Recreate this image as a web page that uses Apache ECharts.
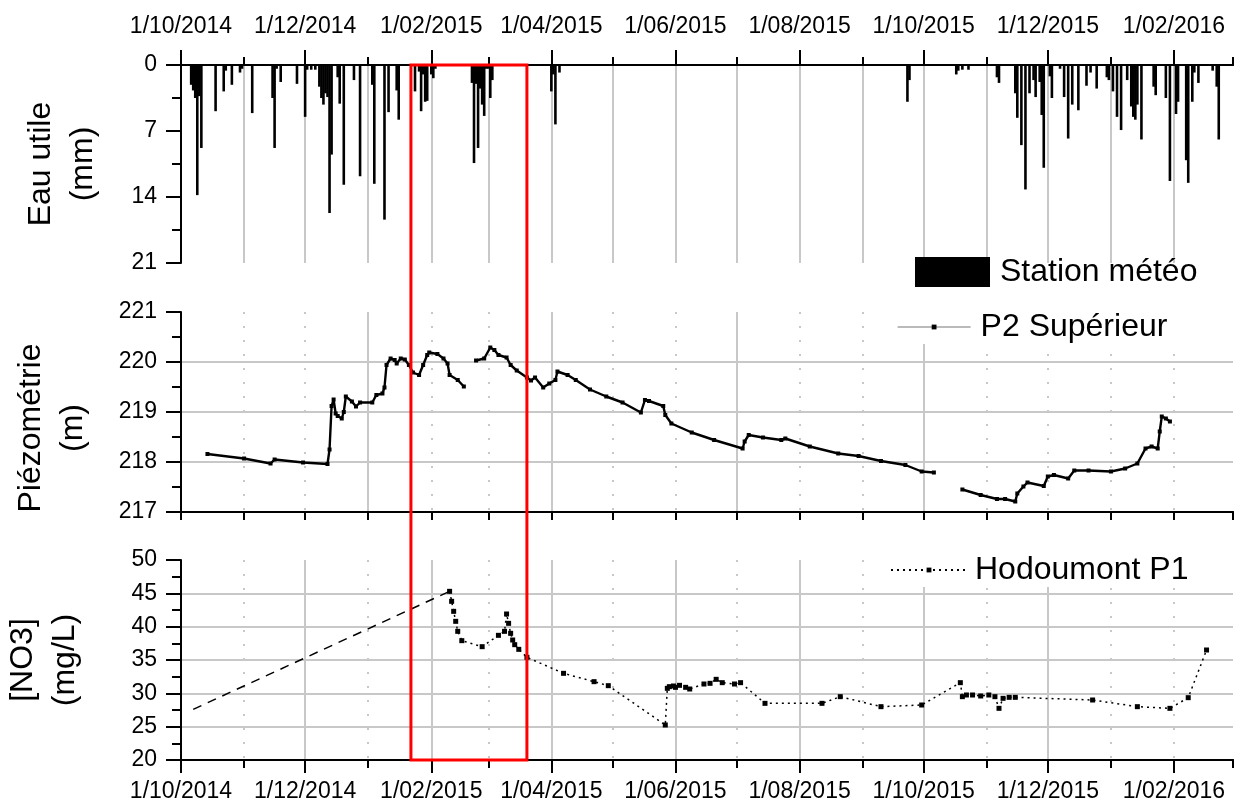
<!DOCTYPE html>
<html>
<head>
<meta charset="utf-8">
<script src="https://cdn.jsdelivr.net/npm/echarts@6/dist/echarts.min.js"></script>
<style>html,body{margin:0;padding:0;background:#fff}#c{width:1242px;height:805px}</style>
</head>
<body>
<div id="c"></div>
<script>
// ---------- tick dates ----------
const monthTicks = ['2014-10-01','2014-11-01','2014-12-01','2015-01-01','2015-02-01','2015-03-01','2015-04-01','2015-05-01','2015-06-01','2015-07-01','2015-08-01','2015-09-01','2015-10-01','2015-11-01','2015-12-01','2016-01-01','2016-02-01','2016-03-01'];
const labelTicks = ['2014-10-01','2014-12-01','2015-02-01','2015-04-01','2015-06-01','2015-08-01','2015-10-01','2015-12-01','2016-02-01'];
const quarterTicks = ['2014-10-01','2015-01-01','2015-04-01','2015-07-01','2015-10-01','2016-01-01'];
const highlightPeriod = ['2015-01-22','2015-03-20'];

// ---------- Eau utile (mm) ----------
const rainDates = [
'2014-10-06','2014-10-07','2014-10-08','2014-10-09','2014-10-10','2014-10-11','2014-10-18','2014-10-22','2014-10-23','2014-10-26','2014-10-30','2014-10-31',
'2014-11-05','2014-11-15','2014-11-16','2014-11-17','2014-11-19','2014-11-27',
'2014-12-01','2014-12-02','2014-12-04','2014-12-06','2014-12-08','2014-12-09','2014-12-10','2014-12-11','2014-12-12','2014-12-13','2014-12-14','2014-12-17','2014-12-18','2014-12-20','2014-12-25','2014-12-28',
'2015-01-03','2015-01-04','2015-01-09','2015-01-11','2015-01-15','2015-01-16','2015-01-24','2015-01-26','2015-01-27','2015-01-28','2015-01-29','2015-01-30','2015-02-01','2015-02-02','2015-02-03',
'2015-02-21','2015-02-22','2015-02-23','2015-02-24','2015-02-25','2015-02-26','2015-02-27','2015-02-28','2015-03-01','2015-03-02','2015-03-03',
'2015-04-01','2015-04-02','2015-04-03','2015-04-05',
'2015-09-23','2015-09-24',
'2015-10-17','2015-10-18','2015-10-20','2015-10-23',
'2015-11-06','2015-11-07','2015-11-15','2015-11-16','2015-11-18','2015-11-20','2015-11-22','2015-11-24','2015-11-25','2015-11-27','2015-11-28','2015-11-29',
'2015-12-02','2015-12-03','2015-12-07','2015-12-09','2015-12-11','2015-12-13','2015-12-16','2015-12-20','2015-12-22','2015-12-25','2015-12-30','2015-12-31',
'2016-01-02','2016-01-04','2016-01-06','2016-01-09','2016-01-11','2016-01-12','2016-01-13','2016-01-14','2016-01-16','2016-01-22','2016-01-23','2016-01-28','2016-01-30',
'2016-02-02','2016-02-03','2016-02-07','2016-02-08','2016-02-10','2016-02-11','2016-02-13','2016-02-20','2016-02-22','2016-02-23'];
const rainValues = [
2.1,2.7,3.5,13.8,3.3,8.8,4.9,2.8,0.6,2.1,0.8,0.4,
5.1,3.5,8.8,0.4,1.8,2.0,
5.5,0.5,0.5,0.5,2.3,3.5,4.2,3.0,3.4,15.7,9.5,1.3,4.1,12.7,1.6,11.8,
2.1,12.6,16.4,5.0,2.7,5.8,2.8,0.7,4.9,1.0,3.9,3.8,1.0,1.4,0.4,
1.9,10.4,2.0,8.8,2.5,4.2,5.4,0.4,0.4,3.5,1.6,
2.8,1.0,6.3,0.8,
3.9,1.6,
1.0,0.6,0.5,0.5,
1.3,1.9,3.0,5.6,8.5,13.2,3.0,1.6,3.4,1.8,5.3,10.9,
1.2,3.5,0.4,3.4,7.8,4.2,4.8,2.2,0.8,2.5,1.3,1.6,
2.8,5.5,6.9,1.6,4.4,5.5,5.8,4.2,7.9,2.3,3.2,3.5,12.3,
5.2,3.9,10.1,12.5,3.9,0.8,1.9,0.6,2.3,7.9];

// ---------- Piézométrie P2 Supérieur (m) ----------
const piezoDates = [
'2014-10-14','2014-11-01','2014-11-14','2014-11-16','2014-11-30','2014-12-12','2014-12-13','2014-12-14','2014-12-15','2014-12-16','2014-12-17','2014-12-19','2014-12-20','2014-12-21','2014-12-24','2014-12-26','2014-12-28',
'2015-01-03','2015-01-05','2015-01-08','2015-01-09','2015-01-10','2015-01-12','2015-01-14','2015-01-15','2015-01-17','2015-01-19','2015-01-21','2015-01-23','2015-01-26','2015-01-28','2015-01-30','2015-01-31',
'2015-02-04','2015-02-07','2015-02-09','2015-02-10','2015-02-14','2015-02-17','2015-02-20','2015-02-23','2015-02-27',
'2015-03-02','2015-03-04','2015-03-06','2015-03-10','2015-03-12','2015-03-15','2015-03-20','2015-03-22','2015-03-24','2015-03-28','2015-03-31',
'2015-04-03','2015-04-04','2015-04-09','2015-04-13','2015-04-20','2015-04-28',
'2015-05-06','2015-05-15','2015-05-17','2015-05-19','2015-05-26','2015-05-27','2015-05-30',
'2015-06-09','2015-06-20','2015-07-04','2015-07-05','2015-07-07','2015-07-14','2015-07-23','2015-07-25',
'2015-08-06','2015-08-20','2015-08-30','2015-09-10','2015-09-22','2015-09-30','2015-10-06','2015-10-13',
'2015-10-20','2015-10-29','2015-11-06','2015-11-10','2015-11-15','2015-11-16','2015-11-19','2015-11-21','2015-11-29',
'2015-12-01','2015-12-04','2015-12-11','2015-12-14','2015-12-21',
'2016-01-01','2016-01-08','2016-01-14','2016-01-18','2016-01-21','2016-01-24','2016-01-25','2016-01-26','2016-01-28','2016-01-30'];
const piezoValues = [
218.16,218.07,217.97,218.05,217.99,217.96,218.25,219.12,219.25,218.97,218.92,218.87,219.00,219.31,219.21,219.11,219.19,
219.19,219.34,219.37,219.49,219.94,220.07,220.04,219.97,220.07,220.05,219.94,219.79,219.74,219.94,220.14,220.19,
220.16,220.07,219.97,219.74,219.64,219.51,null,220.03,220.07,
220.29,220.24,220.14,220.09,219.94,219.83,219.69,219.63,219.69,219.49,219.57,
219.64,219.81,219.74,219.64,219.45,219.31,
219.19,218.99,219.24,219.22,219.12,218.94,218.77,
218.59,218.44,218.27,218.41,218.54,218.49,218.44,218.47,
218.31,218.17,218.12,218.02,217.94,217.81,217.79,null,
217.45,217.34,217.26,217.26,217.21,217.37,217.51,217.59,217.52,
217.71,217.74,217.67,217.83,217.83,
217.81,217.87,217.97,218.27,218.31,218.27,218.61,218.91,218.87,218.81];

// ---------- [NO3] Hodoumont P1 (mg/L) ----------
const no3Dates = [
'2014-10-07','2015-02-10','2015-02-11','2015-02-12','2015-02-13','2015-02-14','2015-02-16','2015-02-26',
'2015-03-06','2015-03-09','2015-03-10','2015-03-11','2015-03-12','2015-03-13','2015-03-14','2015-03-16','2015-03-20',
'2015-04-07','2015-04-22','2015-04-29','2015-05-27','2015-05-28','2015-05-29','2015-05-31',
'2015-06-01','2015-06-03','2015-06-06','2015-06-08','2015-06-15','2015-06-18','2015-06-21','2015-06-24','2015-06-30',
'2015-07-03','2015-07-15','2015-08-12','2015-08-21','2015-09-10','2015-09-30',
'2015-10-19','2015-10-20','2015-10-22','2015-10-25','2015-10-29','2015-11-02','2015-11-05','2015-11-07','2015-11-09','2015-11-12','2015-11-15',
'2015-12-23','2016-01-14','2016-01-30','2016-02-08','2016-02-17'];
const no3Values = [
27.6,45.3,43.8,42.3,40.8,39.3,37.9,37.0,
38.7,39.3,41.9,40.5,39.0,38.0,37.3,36.6,35.4,
33.0,31.75,31.15,25.25,30.75,31.0,31.1,
30.9,31.2,30.9,30.65,31.4,31.5,32.1,31.6,31.4,
31.6,28.5,28.5,29.5,28.0,28.25,
31.6,29.5,29.75,29.75,29.6,29.75,29.5,27.75,29.25,29.4,29.4,
29.0,28.0,27.75,29.35,36.5];

// ---------- helpers ----------
const FONT = '"Liberation Sans", Arial, Helvetica, sans-serif';
function ts(s){const p=s.split('-').map(Number);return new Date(p[0],p[1]-1,p[2]).getTime();}
function fmt(v){const d=new Date(v);return d.getDate()+'/'+String(d.getMonth()+1).padStart(2,'0')+'/'+d.getFullYear();}
const monthTs = monthTicks.map(ts), labelTs = labelTicks.map(ts), quarterTs = quarterTicks.map(ts);
const X_MIN = monthTs[0], X_MAX = monthTs[monthTs.length-1];
const GRID = '#c8c8c8';
const axisLineStyle = {color:'#000', width:2};

function xAxisDef(gridIndex, position, tickVals, tickLen, label, split){
  return {
    type:'value', gridIndex, position, min:X_MIN, max:X_MAX, scale:true,
    axisLine:{show:true, onZero:false, lineStyle:axisLineStyle},
    axisTick:{show:tickLen>0, customValues:tickVals, length:tickLen, lineStyle:{color:'#000', width:2}},
    axisLabel: label ? Object.assign({show:true, customValues:labelTs, formatter:fmt, fontSize:23, fontFamily:FONT, color:'#000', showMinLabel:true, showMaxLabel:true, hideOverlap:false}, label) : {show:false},
    splitLine: split ? {show:true, showMinLine:false, showMaxLine:false, lineStyle:Object.assign({color:GRID, width:2}, split)} : {show:false},
    axisPointer:{show:false}
  };
}

function yAxisDef(gridIndex, min, max, interval, name, gap, extra){
  return Object.assign({
    type:'value', gridIndex, min, max, interval,
    axisLine:{show:true, onZero:false, lineStyle:axisLineStyle},
    axisTick:{show:true, length:15, lineStyle:{color:'#000', width:2}},
    minorTick:{show:true, splitNumber:2, length:9, lineStyle:{color:'#000', width:2}},
    axisLabel:{fontSize:23, fontFamily:FONT, color:'#000', margin:24, showMinLabel:true, showMaxLabel:true},
    splitLine:{show:true, showMinLine:false, showMaxLine:false, lineStyle:{color:GRID, width:2}},
    name, nameLocation:'middle', nameRotate:90, nameGap:gap,
    nameTextStyle:{fontSize:32, fontFamily:FONT, color:'#000', lineHeight:42}
  }, extra || {});
}

const chart = echarts.init(document.getElementById('c'), null, {renderer:'canvas'});
const option = {
  animation:false,
  backgroundColor:'#fff',
  textStyle:{fontFamily:FONT},
  grid:[
    {left:181, top:65, width:1052, height:198, outerBoundsMode:'none'},
    {left:181, top:312, width:1052, height:200, outerBoundsMode:'none'},
    {left:181, top:560, width:1052, height:200, outerBoundsMode:'none'}
  ],
  xAxis:[
    xAxisDef(0,'top',monthTs,8,{margin:27},{type:'solid'}),
    xAxisDef(0,'top',labelTs,15,null,null),
    xAxisDef(1,'bottom',monthTs,8,null,{type:[2,12]}),
    xAxisDef(1,'bottom',quarterTs,0,null,{type:'solid'}),
    xAxisDef(2,'bottom',monthTs,8,{margin:20},{type:[2,12]}),
    xAxisDef(2,'bottom',labelTs,13,null,{type:'solid'})
  ],
  yAxis:[
    yAxisDef(0,0,21,7,'Eau utile\n(mm)',77,{inverse:true, splitLine:{show:false}}),
    yAxisDef(1,217,221,1,'Piézométrie\n(m)',87,{nameTextStyle:{fontSize:32, fontFamily:FONT, color:'#000', lineHeight:42, padding:[0,32,0,0]}}),
    yAxisDef(2,20,50,5,'[NO3]\n(mg/L)',95)
  ],
  legend:[
    {data:['Station météo'], left:915, top:256, padding:0, itemWidth:75, itemHeight:30, icon:'rect', selectedMode:false,
     itemStyle:{color:'#000'}, textStyle:{fontSize:32, fontFamily:FONT, color:'#000', padding:[0,0,0,5]}},
    {data:['P2 Supérieur'], left:893, top:310, padding:[1,8,1,4], itemWidth:73, itemHeight:6, selectedMode:false, backgroundColor:'#fff',
     lineStyle:{color:'#777', width:1.2}, textStyle:{fontSize:32, fontFamily:FONT, color:'#000', padding:[0,0,0,5]}},
    {data:['Hodoumont P1'], left:886, top:553, padding:[1,8,1,4], itemWidth:76, itemHeight:6, selectedMode:false, backgroundColor:'#fff',
     textStyle:{fontSize:32, fontFamily:FONT, color:'#000', padding:[0,0,0,3]}}
  ],
  series:[
    {type:'bar', name:'Station météo', xAxisIndex:0, yAxisIndex:0, barWidth:2.6, silent:true,
     itemStyle:{color:'#000'}, data:rainDates.map((d,i)=>[ts(d), rainValues[i]])},
    {type:'line', name:'P2 Supérieur', xAxisIndex:2, yAxisIndex:1, symbol:'rect', symbolSize:4, connectNulls:false, silent:true,
     lineStyle:{color:'#000', width:2.4}, itemStyle:{color:'#000'}, data:piezoDates.map((d,i)=>[ts(d), piezoValues[i]])},
    {type:'line', name:'Hodoumont P1 (interp.)', xAxisIndex:4, yAxisIndex:2, symbol:'none', silent:true,
     lineStyle:{color:'#000', width:1.5, type:[9,7]}, data:no3Dates.slice(0,2).map((d,i)=>[ts(d), no3Values[i]])},
    {type:'line', name:'Hodoumont P1', xAxisIndex:4, yAxisIndex:2, symbol:'rect', symbolSize:5, silent:true,
     lineStyle:{color:'#000', width:1.5, type:[2,4]}, itemStyle:{color:'#000'},
     data:no3Dates.slice(1).map((d,i)=>[ts(d), no3Values[i+1]])}
  ]
};
chart.setOption(option);

// Red highlight rectangle spanning the three panels (data coordinates)
const pTop = chart.convertToPixel({xAxisIndex:0, yAxisIndex:0}, [ts(highlightPeriod[0]), 0]);
const pBot = chart.convertToPixel({xAxisIndex:4, yAxisIndex:2}, [ts(highlightPeriod[1]), 20]);
chart.setOption({graphic:[{type:'rect', z:100, silent:true,
  shape:{x:pTop[0], y:pTop[1], width:pBot[0]-pTop[0], height:pBot[1]-pTop[1]},
  style:{fill:'none', stroke:'#ff0000', lineWidth:3}}]});
</script>
</body>
</html>
